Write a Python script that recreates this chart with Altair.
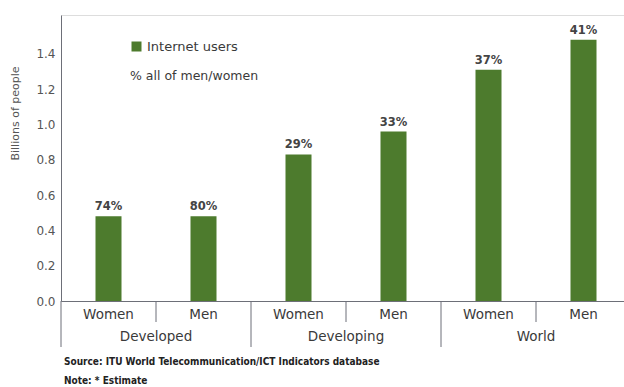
import altair as alt
import pandas as pd

# ---- data ----
groups = ["Developed", "Developed", "Developing", "Developing", "World", "World"]
sexes = ["Women", "Men", "Women", "Men", "Women", "Men"]
users_bn = [0.48, 0.48, 0.83, 0.96, 1.31, 1.48]
pct_labels = ["74%", "80%", "29%", "33%", "37%", "41%"]
y_ticks = [0.0, 0.2, 0.4, 0.6, 0.8, 1.0, 1.2, 1.4]
notes = [
    "Source:  ITU World Telecommunication/ICT Indicators database",
    "Note:  * Estimate",
]

df = pd.DataFrame({
    "group": groups,
    "sex": sexes,
    "users": users_bn,
    "pct": pct_labels,
})
df["cat"] = df["group"] + " " + df["sex"]
df["series"] = "Internet users"
cats = list(df["cat"])

FONT = "DejaVu Sans"
GREEN = "#4d7b2d"
TXT = "#3a3a3a"
AX = "#6d6f78"

W, H = 563, 286

xscale = alt.Scale(domain=cats, range=[0, 570], paddingInner=0, paddingOuter=0)
yscale = alt.Scale(domain=[0, 1.62], nice=False)

base = alt.Chart(df)

bars = base.mark_bar(size=26).encode(
    x=alt.X("cat:N", scale=xscale, sort=cats,
            axis=alt.Axis(title=None, ticks=False, labelAngle=0,
                          labelExpr="split(datum.label, ' ')[1]",
                          labelFont=FONT, labelFontSize=13.5, labelColor=TXT,
                          labelBaseline="top", labelPadding=6,
                          domainColor=AX, domainWidth=1)),
    y=alt.Y("users:Q", scale=yscale,
            axis=alt.Axis(title="Billions of people", values=y_ticks, format=".1f",
                          grid=False, ticks=False, labelPadding=6,
                          labelFont=FONT, labelFontSize=12, labelColor="#555",
                          titleFont=FONT, titleFontSize=11, titleColor="#555",
                          titleFontWeight="normal", titleAngle=270,
                          titleX=-46, titleY=98, titleAlign="center",
                          titleBaseline="middle",
                          domainColor=AX, domainWidth=1)),
    color=alt.Color("series:N",
                    scale=alt.Scale(domain=["Internet users"], range=[GREEN]),
                    legend=alt.Legend(title="% all of men/women", orient="none",
                                      legendX=69, legendY=25,
                                      titleOrient="bottom", titlePadding=16,
                                      titleFont=FONT, titleFontSize=12.5,
                                      titleFontWeight="normal", titleColor=TXT,
                                      labelFont=FONT, labelFontSize=13,
                                      labelColor=TXT, labelOffset=4,
                                      symbolType="square", symbolSize=100,
                                      symbolStrokeWidth=0, padding=0)),
)

pct_text = base.mark_text(baseline="bottom", dy=-4, font=FONT, fontSize=11.5,
                          fontWeight="bold", color="#444").encode(
    x=alt.X("cat:N", scale=xscale, sort=cats),
    y=alt.Y("users:Q", scale=yscale),
    text="pct:N",
)

inner_div = base.transform_filter("datum.sex == 'Men'").mark_rule(
    color=AX, strokeWidth=1).encode(
    x=alt.X("cat:N", scale=xscale, sort=cats, bandPosition=0),
    y=alt.value(H),
    y2=alt.value(H + 21),
)

group_div = base.transform_filter("datum.sex == 'Women'").mark_rule(
    color=AX, strokeWidth=1).encode(
    x=alt.X("cat:N", scale=xscale, sort=cats, bandPosition=0),
    y=alt.value(H),
    y2=alt.value(H + 46),
)

group_lbl = base.transform_filter("datum.sex == 'Men'").mark_text(
    baseline="middle", align="center", font=FONT, fontSize=13.5, color=TXT).encode(
    x=alt.X("cat:N", scale=xscale, sort=cats, bandPosition=0),
    y=alt.value(H + 36),
    text="group:N",
)

src = alt.Chart(pd.DataFrame({"t": [notes[0]]})).mark_text(
    align="left", baseline="middle", font="DejaVu Sans Condensed",
    fontWeight="bold", fontSize=10, color="#222").encode(
    x=alt.value(3), y=alt.value(H + 61), text="t:N")
note = alt.Chart(pd.DataFrame({"t": [notes[1]]})).mark_text(
    align="left", baseline="middle", font="DejaVu Sans Condensed",
    fontWeight="bold", fontSize=10, color="#222").encode(
    x=alt.value(3), y=alt.value(H + 80), text="t:N")

chart = alt.layer(bars, pct_text, inner_div, group_div, group_lbl, src, note).properties(
    width=W, height=H,
    autosize=alt.AutoSizeParams(type="none"),
    padding={"left": 61, "top": 15, "right": 0, "bottom": 86},
).configure_view(stroke=None).configure(background="white")

chart.save("out.html", embed_options={"renderer": "svg", "actions": False})
